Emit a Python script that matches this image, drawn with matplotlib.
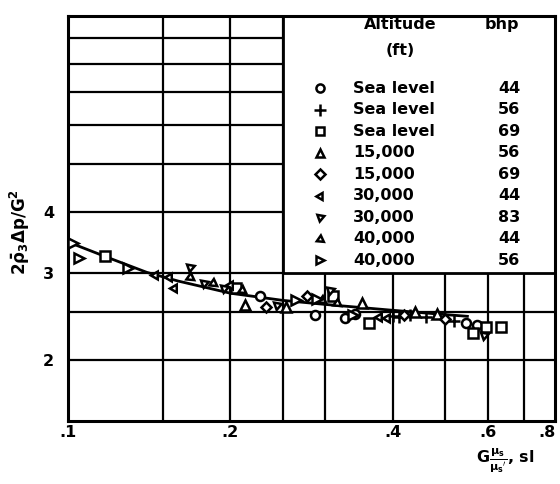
import numpy as np
import matplotlib
matplotlib.use('Agg')
import matplotlib.pyplot as plt
from matplotlib.patches import Rectangle
from matplotlib.ticker import FixedLocator, FixedFormatter, NullLocator

plt.rcParams['font.family'] = 'DejaVu Sans'
plt.rcParams['font.weight'] = 'bold'
plt.rcParams['mathtext.fontset'] = 'dejavusans'
plt.rcParams['mathtext.default'] = 'bf'

# legend table
altitude = ['Sea level', 'Sea level', 'Sea level', '15,000', '15,000',
            '30,000', '30,000', '40,000', '40,000']
bhp = [44, 56, 69, 56, 69, 44, 83, 44, 56]
markers = ['o', '+', 's', '^', 'D', (3, 0, 90), (3, 0, 170), (3, 0, 115), '>']
msizes = [6.5, 9, 6.5, 6.5, 5.5, 6.5, 6.5, 6.5, 6.5]

# test points, one pair of lists per run
x_sl44 = [0.227, 0.287, 0.326, 0.340, 0.547, 0.573]
y_sl44 = [2.70, 2.46, 2.43, 2.48, 2.38, 2.35]
x_sl56 = [0.400, 0.410, 0.430, 0.460, 0.520]
y_sl56 = [2.45, 2.44, 2.47, 2.44, 2.40]
x_sl69 = [0.117, 0.205, 0.310, 0.362, 0.563, 0.596, 0.634]
y_sl69 = [3.25, 2.80, 2.70, 2.37, 2.27, 2.33, 2.33]
x_15k56 = [0.213, 0.254, 0.351, 0.440, 0.484]
y_15k56 = [2.58, 2.56, 2.61, 2.50, 2.48]
x_15k69 = [0.233, 0.277, 0.420, 0.500]
y_15k69 = [2.56, 2.70, 2.47, 2.42]
x_30k44 = [0.145, 0.154, 0.157, 0.200, 0.377, 0.390]
y_30k44 = [2.97, 2.95, 2.80, 2.84, 2.44, 2.43]
x_30k83 = [0.168, 0.179, 0.195, 0.244, 0.306, 0.591]
y_30k83 = [3.08, 2.86, 2.80, 2.58, 2.77, 2.24]
x_40k44 = [0.168, 0.186, 0.210, 0.296, 0.315]
y_40k44 = [2.94, 2.86, 2.77, 2.64, 2.61]
x_40k56 = [0.102, 0.105, 0.129, 0.265, 0.289, 0.337]
y_40k56 = [3.45, 3.22, 3.07, 2.64, 2.66, 2.46]

xs = [x_sl44, x_sl56, x_sl69, x_15k56, x_15k69, x_30k44, x_30k83, x_40k44, x_40k56]
ys = [y_sl44, y_sl56, y_sl69, y_15k56, y_15k69, y_30k44, y_30k83, y_40k44, y_40k56]

# faired curve through the data
curve_x = [0.10, 0.12, 0.14, 0.16, 0.20, 0.25, 0.30, 0.40, 0.50, 0.55]
curve_y = [3.47, 3.21, 3.01, 2.89, 2.73, 2.64, 2.59, 2.52, 2.47, 2.45]

x_grid = [0.15, 0.2, 0.25, 0.3, 0.4, 0.5, 0.6, 0.7]
x_labels = ['', '.2', '', '', '.4', '', '.6', '']
y_grid = [2, 2.5, 3, 4, 5, 6, 7, 8, 9]
y_labels = ['2', '', '3', '4', '', '', '', '', '']

fig = plt.figure(figsize=(5.6, 4.84), dpi=100)
ax = fig.add_axes([0.1214, 0.130, 0.870, 0.837])
ax.set_xscale('log')
ax.set_yscale('log')
ax.set_xlim(0.1, 0.8)
ax.set_ylim(1.5, 10)

ax.xaxis.set_major_locator(FixedLocator(x_grid))
ax.xaxis.set_major_formatter(FixedFormatter(x_labels))
ax.xaxis.set_minor_locator(NullLocator())
ax.yaxis.set_major_locator(FixedLocator(y_grid))
ax.yaxis.set_major_formatter(FixedFormatter(y_labels))
ax.yaxis.set_minor_locator(NullLocator())
ax.tick_params(length=0, labelsize=11.5)
ax.tick_params(axis='x', pad=3)
ax.tick_params(axis='y', pad=10)
ax.set_axisbelow(True)
ax.grid(True, color='black', lw=1.6)
for s in ax.spines.values():
    s.set_linewidth(2.2)

# end labels .1 and .8 sit on the frame
ax.text(0.1, -0.01, '.1', transform=ax.get_xaxis_transform(), ha='center', va='top', fontsize=11.5)
ax.text(0.8, -0.01, '.8', transform=ax.get_xaxis_transform(), ha='right', va='top', fontsize=11.5)

# white legend block over the upper right grid
ax.add_patch(Rectangle((0.25, 3.0), 0.55, 7.0, facecolor='white', edgecolor='black', lw=2, zorder=1))

ax.plot(curve_x, curve_y, color='black', lw=2, zorder=2)
for x, y, m, ms in zip(xs, ys, markers, msizes):
    ax.plot(x, y, linestyle='none', marker=m, ms=ms, mfc='white', mec='black', mew=1.8, zorder=3)

# legend table text
ax.text(0.682, 0.978, 'Altitude', transform=ax.transAxes, ha='center', va='center', fontsize=11.5)
ax.text(0.682, 0.916, '(ft)', transform=ax.transAxes, ha='center', va='center', fontsize=11.5)
ax.text(0.891, 0.978, 'bhp', transform=ax.transAxes, ha='center', va='center', fontsize=11.5)
for i, (alt, hp, m, ms) in enumerate(zip(altitude, bhp, markers, msizes)):
    yy = 0.822 - i * 0.0531
    ax.plot([0.517], [yy], transform=ax.transAxes, marker=m, ms=ms * 0.9, mfc='white', mec='black',
            mew=1.8, linestyle='none', clip_on=False, zorder=4)
    ax.text(0.585, yy, alt, transform=ax.transAxes, ha='left', va='center', fontsize=11.5)
    ax.text(0.928, yy, str(hp), transform=ax.transAxes, ha='right', va='center', fontsize=11.5)

fig.text(20 / 560, 1 - 232 / 484, r'$2\bar{\rho}_3\Delta p/G^2$', rotation=90, ha='center', va='center', fontsize=12)
fig.text(476 / 560, 1 - 463 / 484, r'$G\frac{\mu_s}{\mu_s{}^{\prime}}$, sl', ha='left', va='baseline', fontsize=11.5)

fig.savefig('out.png', dpi=100)
